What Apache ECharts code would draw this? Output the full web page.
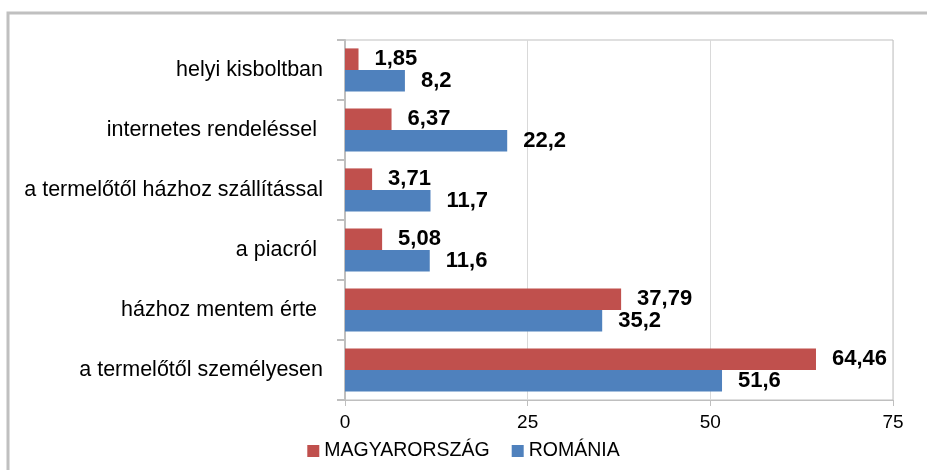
<!DOCTYPE html>
<html>
<head>
<meta charset="utf-8">
<script src="https://cdn.jsdelivr.net/npm/echarts@6/dist/echarts.min.js"></script>
<style>
  html, body { margin: 0; padding: 0; background: #fff; }
  #chart { width: 927px; height: 470px; }
</style>
</head>
<body>
<div id="chart"></div>
<script>
var fontFamily = 'Liberation Sans, Arial, sans-serif';

// bottom to top, like the category axis draws them
var categories = [
    'a termelőtől személyesen',
    'házhoz mentem érte ',
    'a piacról ',
    'a termelőtől házhoz szállítással',
    'internetes rendeléssel ',
    'helyi kisboltban'
];
var magyarorszag = [64.46, 37.79, 5.08, 3.71, 6.37, 1.85];
var romania = [51.6, 35.2, 11.6, 11.7, 22.2, 8.2];
var seriesNames = ['MAGYARORSZÁG', 'ROMÁNIA'];

var chart = echarts.init(document.getElementById('chart'));

function commaLabel(params) {
    return String(params.value).replace('.', ',');
}

function barLabel() {
    return {
        show: true,
        position: 'right',
        distance: 16,
        formatter: commaLabel,
        color: '#000',
        fontWeight: 'bold',
        fontSize: 22,
        fontFamily: fontFamily
    };
}

var option = {
    animation: false,
    backgroundColor: '#fff',
    color: ['#c0504d', '#4f81bd'],
    graphic: [{
        type: 'rect',
        shape: { x: 8, y: 13, width: 940, height: 480 },
        style: { fill: 'none', stroke: '#c0c0c0', lineWidth: 3 },
        silent: true
    }],
    legend: {
        data: seriesNames,
        bottom: 4,
        left: 'center',
        itemWidth: 12,
        itemHeight: 12,
        itemGap: 22,
        icon: 'rect',
        textStyle: { color: '#000', fontSize: 19.5, fontFamily: fontFamily }
    },
    grid: {
        left: 345,
        right: 34,
        top: 40,
        bottom: 70,
        show: true,
        borderColor: '#bfbfbf',
        borderWidth: 1
    },
    xAxis: {
        type: 'value',
        min: 0,
        max: 75,
        interval: 25,
        axisLine: { show: true, lineStyle: { color: '#bfbfbf' } },
        axisTick: { show: true, length: 6, lineStyle: { color: '#bfbfbf' } },
        splitLine: { show: true, lineStyle: { color: '#d9d9d9' } },
        axisLabel: { color: '#000', fontSize: 19, margin: 13, fontFamily: fontFamily }
    },
    yAxis: {
        type: 'category',
        data: categories,
        axisLine: { show: true, lineStyle: { color: '#bfbfbf', width: 2 } },
        axisTick: { show: true, length: 8, lineStyle: { color: '#bfbfbf', width: 2 } },
        axisLabel: { color: '#000', fontSize: 21.5, margin: 22, fontFamily: fontFamily }
    },
    series: [{
        name: seriesNames[0],
        type: 'bar',
        data: magyarorszag,
        barGap: '0%',
        barCategoryGap: '28%',
        label: barLabel()
    }, {
        name: seriesNames[1],
        type: 'bar',
        data: romania,
        label: barLabel()
    }]
};

chart.setOption(option);
</script>
</body>
</html>
